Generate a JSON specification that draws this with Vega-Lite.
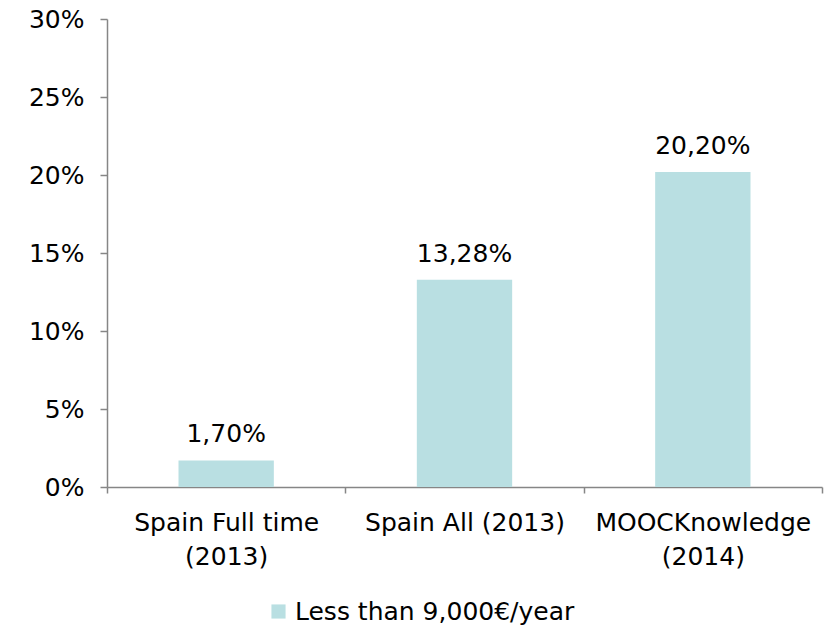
{
  "$schema": "https://vega.github.io/schema/vega-lite/v6.json",
  "width": 715,
  "height": 468,
  "autosize": {"type": "none"},
  "padding": {"left": 107, "top": 19, "right": 9, "bottom": 139},
  "background": "white",
  "config": {
    "view": {"stroke": null},
    "font": "DejaVu Sans",
    "locale": {"number": {"decimal": ",", "thousands": ".", "grouping": [3], "currency": ["", "€"]}}
  },
  "data": {
    "values": [
      {"category": "Spain Full time (2013)", "value": 0.017, "series": "Less than 9,000€/year"},
      {"category": "Spain All (2013)", "value": 0.1328, "series": "Less than 9,000€/year"},
      {"category": "MOOCKnowledge (2014)", "value": 0.202, "series": "Less than 9,000€/year"}
    ]
  },
  "encoding": {
    "x": {
      "field": "category",
      "type": "nominal",
      "sort": null,
      "scale": {"paddingInner": 0, "paddingOuter": 0},
      "axis": {
        "title": null,
        "labelAngle": 0,
        "ticks": true,
        "tickBand": "extent",
        "tickExtra": true,
        "domainColor": "#868686",
        "domainWidth": 1.5,
        "tickColor": "#868686",
        "tickWidth": 1.5,
        "tickSize": 6,
        "labelFont": "DejaVu Sans",
        "labelFontSize": 25,
        "labelColor": "#000000",
        "labelPadding": 17,
        "labelLineHeight": 34,
        "labelBaseline": "top",
        "labelLimit": 0,
        "labelExpr": "datum.value == 'Spain Full time (2013)' ? ['Spain Full time', '(2013)'] : datum.value == 'MOOCKnowledge (2014)' ? ['MOOCKnowledge', '(2014)'] : datum.value"
      }
    },
    "y": {
      "field": "value",
      "type": "quantitative",
      "scale": {"domain": [0, 0.3]},
      "axis": {
        "title": null,
        "format": ".0%",
        "values": [0, 0.05, 0.1, 0.15, 0.2, 0.25, 0.3],
        "grid": false,
        "ticks": true,
        "domainColor": "#868686",
        "domainWidth": 1.5,
        "tickColor": "#868686",
        "tickWidth": 1.5,
        "tickSize": 7,
        "labelFont": "DejaVu Sans",
        "labelFontSize": 25,
        "labelColor": "#000000",
        "labelPadding": 16,
        "labelLimit": 0
      }
    }
  },
  "layer": [
    {
      "mark": {"type": "bar", "width": {"band": 0.4}},
      "encoding": {
        "color": {
          "field": "series",
          "type": "nominal",
          "scale": {"range": ["#B9DFE2"]},
          "legend": {
            "title": null,
            "orient": "none",
            "legendX": 159,
            "legendY": 580,
            "symbolType": "square",
            "symbolSize": 200,
            "symbolStrokeWidth": 0,
            "labelFont": "DejaVu Sans",
            "labelFontSize": 25,
            "labelColor": "#000000",
            "labelOffset": 4,
            "labelLimit": 0
          }
        }
      }
    },
    {
      "mark": {"type": "text", "baseline": "middle", "dy": -26, "font": "DejaVu Sans", "fontSize": 25, "color": "#000000"},
      "encoding": {
        "text": {"field": "value", "type": "quantitative", "format": ".2%"}
      }
    }
  ]
}
